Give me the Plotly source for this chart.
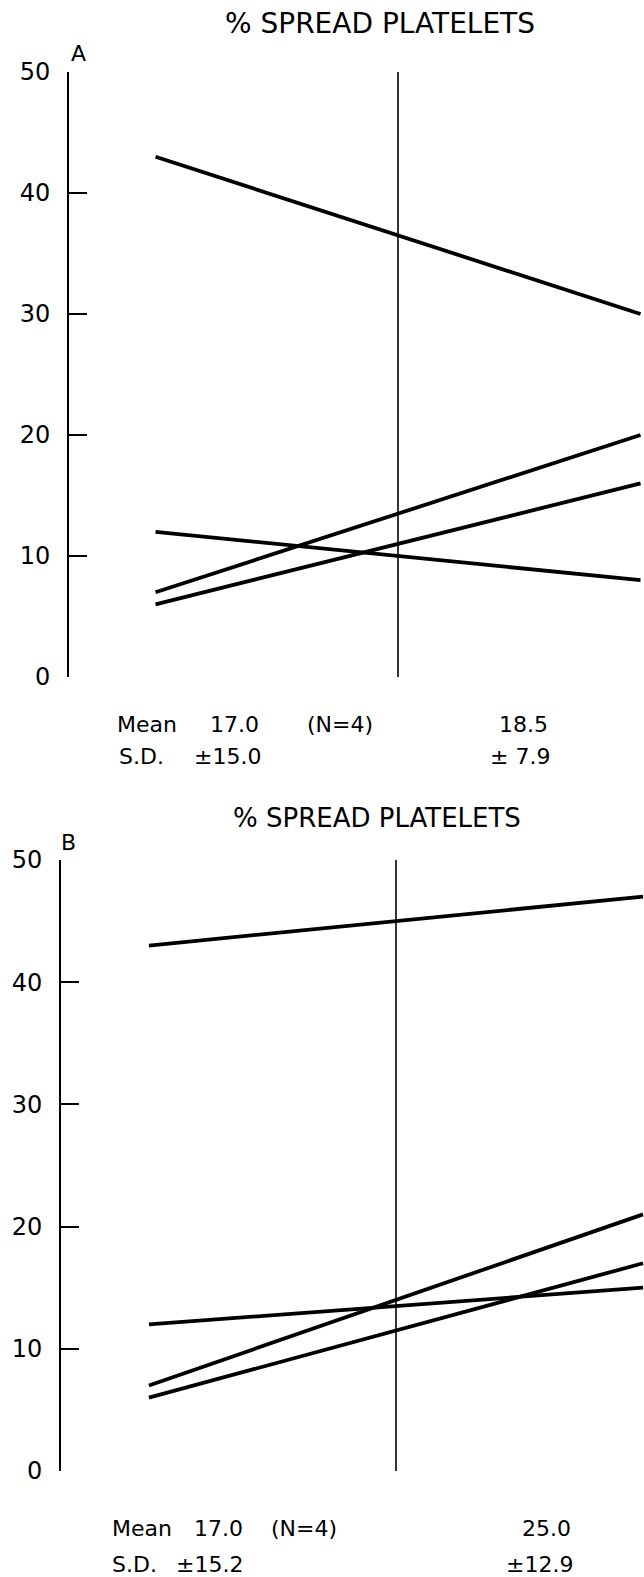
import plotly.graph_objects as go

# ---------------- data ----------------
TIMEPOINTS = [0, 1]          # start / end of the observation
MIDPOINT = 0.5               # position of the vertical reference line
Y_TICKS = [0, 10, 20, 30, 40, 50]
PANEL_A_SERIES = [[43, 30], [7, 20], [6, 16], [12, 8]]
PANEL_B_SERIES = [[43, 47], [7, 21], [6, 17], [12, 15]]
TITLE = "% SPREAD PLATELETS"
PANEL_LABELS = ["A", "B"]
ROW_LABELS = ["Mean", "S.D."]
N_LABEL = "(N=4)"
A_MEAN = ["17.0", "18.5"]
A_SD = ["±15.0", "± 7.9"]
B_MEAN = ["17.0", "25.0"]
B_SD = ["±15.2", "±12.9"]

# ---------------- layout helpers ----------------
W, H = 644, 1577
FONT = "DejaVu Sans"


def px(x):
    return x / W


def py(y):
    return 1 - y / H


fig = go.Figure()

for series in PANEL_A_SERIES:
    fig.add_trace(go.Scatter(x=TIMEPOINTS, y=series, mode="lines",
                             line=dict(color="black", width=3.8),
                             xaxis="x", yaxis="y", showlegend=False,
                             hoverinfo="skip"))
for series in PANEL_B_SERIES:
    fig.add_trace(go.Scatter(x=TIMEPOINTS, y=series, mode="lines",
                             line=dict(color="black", width=3.8),
                             xaxis="x2", yaxis="y2", showlegend=False,
                             hoverinfo="skip"))

# vertical reference lines
for xr, yr in (("x", "y"), ("x2", "y2")):
    fig.add_shape(type="line", xref=xr, yref=yr, x0=MIDPOINT, x1=MIDPOINT,
                  y0=Y_TICKS[0], y1=Y_TICKS[-1],
                  line=dict(color="black", width=1.6))

yaxis_style = dict(
    range=[Y_TICKS[0], Y_TICKS[-1]], tickvals=Y_TICKS,
    showline=True, linecolor="black", linewidth=1.6,
    ticks="inside", ticklen=18, tickwidth=1.6, tickcolor="black",
    tickfont=dict(family=FONT, size=24, color="black"),
    showgrid=False, zeroline=False, ticklabelstandoff=12,
    automargin=False,
)

fig.update_layout(
    width=W, height=H,
    margin=dict(l=0, r=0, t=0, b=0),
    paper_bgcolor="white", plot_bgcolor="white",
    showlegend=False,
    xaxis=dict(domain=[px(69), 1], range=[-0.1784, 1.0072], visible=False,
               anchor="y"),
    yaxis=dict(domain=[py(677), py(72)], anchor="x", **yaxis_style),
    xaxis2=dict(domain=[px(61), 1], range=[-0.178, 1.002], visible=False,
                anchor="y2"),
    yaxis2=dict(domain=[py(1471), py(860)], anchor="x2", **yaxis_style),
)


def add_text(text, x, y, size, anchor="center"):
    fig.add_annotation(text=text, x=px(x), y=py(y), xref="paper",
                       yref="paper", xanchor=anchor, yanchor="middle",
                       showarrow=False,
                       font=dict(family=FONT, size=size, color="black"))


# titles and panel letters
add_text(TITLE, 380, 23, 28)
add_text(TITLE, 377, 818, 26)
add_text(PANEL_LABELS[0], 78, 53, 22)
add_text(PANEL_LABELS[1], 68, 842, 22)

# panel A statistics
add_text(ROW_LABELS[0], 115, 725, 22, "left")
add_text(A_MEAN[0], 261, 725, 22, "right")
add_text(N_LABEL, 340, 725, 22)
add_text(A_MEAN[1], 550, 725, 22, "right")
add_text(ROW_LABELS[1], 117, 757, 22, "left")
add_text(A_SD[0], 263, 757, 22, "right")
add_text(A_SD[1], 552, 757, 22, "right")

# panel B statistics
add_text(ROW_LABELS[0], 110, 1528, 22, "left")
add_text(B_MEAN[0], 245, 1528, 22, "right")
add_text(N_LABEL, 304, 1528, 22)
add_text(B_MEAN[1], 573, 1528, 22, "right")
add_text(ROW_LABELS[1], 110, 1564, 22, "left")
add_text(B_SD[0], 245, 1564, 22, "right")
add_text(B_SD[1], 575, 1564, 22, "right")

fig.write_html("out.html", config={"displayModeBar": False},
               post_script="document.body.style.margin='0';")
